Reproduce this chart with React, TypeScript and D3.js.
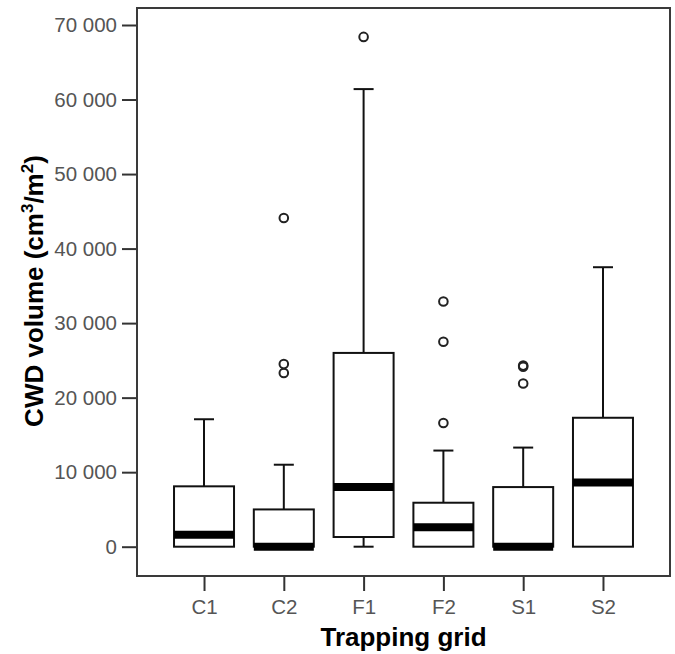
import React, { useEffect, useRef } from "react";
import * as d3 from "d3";

const grids = ["C1", "C2", "F1", "F2", "S1", "S2"];
const whiskerLow = [0, 0, 0, 0, 0, 0];
const q1 = [0, 0, 1300, 0, 0, 0];
const medians = [1600, 0, 8000, 2600, 0, 8600];
const q3 = [8100, 5000, 26000, 5900, 8000, 17300];
const whiskerHigh = [17100, 11000, 61400, 12900, 13300, 37500];
const outliers = [
  [],
  [44100, 24500, 23300],
  [68400],
  [32900, 27500, 16600],
  [24300, 24150, 21900],
  [],
];
const yTicks = [0, 10000, 20000, 30000, 40000, 50000, 60000, 70000];

const App = () => {
  const svgRef = useRef(null);
  const width = 675;
  const height = 654;

  useEffect(() => {
    const svg = d3.select(svgRef.current);
    svg.selectAll("*").remove();

    const left = 137;
    const right = 670;
    const top = 8;
    const bottom = 576;

    const x = d3.scalePoint().domain(grids).range([left, right]).padding(0.84);
    const y = d3.scaleLinear().domain([0, 70000]).range([546.7, 25]);

    const fmt = d3.formatLocale({ decimal: ".", thousands: "\u00a0", grouping: [3], currency: ["", ""] }).format(",");

    // y axis
    svg
      .append("g")
      .attr("transform", `translate(${left},0)`)
      .call(d3.axisLeft(y).tickValues(yTicks).tickSize(15).tickPadding(5).tickFormat(fmt))
      .call((g) => g.select(".domain").remove())
      .call((g) => g.selectAll(".tick line").attr("stroke", "#333").attr("stroke-width", 2))
      .call((g) =>
        g.selectAll(".tick text").attr("fill", "#555").style("font", "20.5px 'Liberation Sans', Arial, sans-serif")
      );

    // x axis
    svg
      .append("g")
      .attr("transform", `translate(0,${bottom})`)
      .call(d3.axisBottom(x).tickSize(15).tickPadding(8))
      .call((g) => g.select(".domain").remove())
      .call((g) => g.selectAll(".tick line").attr("stroke", "#333").attr("stroke-width", 2))
      .call((g) =>
        g.selectAll(".tick text").attr("fill", "#555").style("font", "20.5px 'Liberation Sans', Arial, sans-serif")
      );

    // frame
    svg
      .append("rect")
      .attr("x", left)
      .attr("y", top)
      .attr("width", right - left)
      .attr("height", bottom - top)
      .attr("fill", "none")
      .attr("stroke", "#3a3a3a")
      .attr("stroke-width", 2);

    const boxW = 60;
    const capW = 20;
    const g = svg.append("g");

    grids.forEach((c, i) => {
      const cx = x(c);
      // whiskers
      g.append("line")
        .attr("x1", cx).attr("x2", cx)
        .attr("y1", y(q3[i])).attr("y2", y(whiskerHigh[i]))
        .attr("stroke", "#111").attr("stroke-width", 2);
      g.append("line")
        .attr("x1", cx - capW / 2).attr("x2", cx + capW / 2)
        .attr("y1", y(whiskerHigh[i])).attr("y2", y(whiskerHigh[i]))
        .attr("stroke", "#111").attr("stroke-width", 2);
      if (q1[i] > whiskerLow[i]) {
        g.append("line")
          .attr("x1", cx).attr("x2", cx)
          .attr("y1", y(q1[i])).attr("y2", y(whiskerLow[i]))
          .attr("stroke", "#111").attr("stroke-width", 2);
        g.append("line")
          .attr("x1", cx - capW / 2).attr("x2", cx + capW / 2)
          .attr("y1", y(whiskerLow[i])).attr("y2", y(whiskerLow[i]))
          .attr("stroke", "#111").attr("stroke-width", 2);
      }
      // box
      g.append("rect")
        .attr("x", cx - boxW / 2)
        .attr("y", y(q3[i]))
        .attr("width", boxW)
        .attr("height", y(q1[i]) - y(q3[i]))
        .attr("fill", "white")
        .attr("stroke", "#111")
        .attr("stroke-width", 2);
      // median
      g.append("line")
        .attr("x1", cx - boxW / 2).attr("x2", cx + boxW / 2)
        .attr("y1", y(medians[i])).attr("y2", y(medians[i]))
        .attr("stroke", "#000").attr("stroke-width", 8);
      // outliers
      g.selectAll(null)
        .data(outliers[i])
        .join("circle")
        .attr("cx", cx)
        .attr("cy", (d) => y(d))
        .attr("r", 4.3)
        .attr("fill", "none")
        .attr("stroke", "#222")
        .attr("stroke-width", 2);
    });

    // axis titles
    svg
      .append("text")
      .attr("x", (left + right) / 2)
      .attr("y", 646)
      .attr("text-anchor", "middle")
      .style("font", "bold 26px 'Liberation Sans', Arial, sans-serif")
      .attr("fill", "#000")
      .text("Trapping grid");

    const yl = svg
      .append("text")
      .attr("transform", `translate(43,291) rotate(-90)`)
      .attr("text-anchor", "middle")
      .style("font", "bold 26px 'Liberation Sans', Arial, sans-serif")
      .attr("fill", "#000");
    yl.append("tspan").text("CWD volume (cm");
    yl.append("tspan").attr("dy", -10).style("font-size", "17px").text("3");
    yl.append("tspan").attr("dy", 10).text("/m");
    yl.append("tspan").attr("dy", -10).style("font-size", "17px").text("2");
    yl.append("tspan").attr("dy", 10).text(")");
  }, []);

  return (
    <svg
      ref={svgRef}
      width={width}
      height={height}
      viewBox={`0 0 ${width} ${height}`}
      style={{ position: "absolute", left: 0, top: 0, background: "white" }}
    ></svg>
  );
};

export default App;
